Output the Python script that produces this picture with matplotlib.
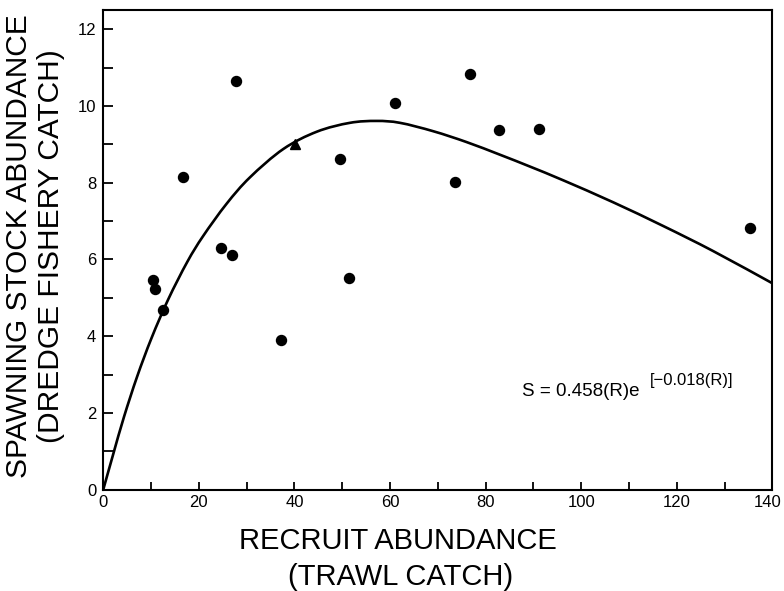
import matplotlib
matplotlib.use("Agg")
import matplotlib.pyplot as plt
import matplotlib.transforms as mtransforms
from matplotlib.path import Path
from matplotlib.patches import PathPatch
from matplotlib.ticker import MultipleLocator

plt.rcParams['font.family'] = ['Liberation Sans', 'DejaVu Sans']

# Observed data (recruit abundance R, spawning stock abundance S)
dot_r = [10.4, 10.8, 12.5, 16.6, 24.7, 26.9, 27.7, 37.1, 49.5, 51.4, 61.1, 73.5, 76.7, 82.7, 91.2, 135.3]
dot_s = [5.47, 5.22, 4.69, 8.14, 6.29, 6.13, 10.64, 3.91, 8.62, 5.53, 10.08, 8.03, 10.84, 9.37, 9.40, 6.81]
tri_r = [40.1]
tri_s = [9.01]

# Fitted curve
curve_r = [0, 2.1, 4.35, 7.1, 10.1, 13.6, 17.6, 20.9, 25.8, 30.7, 37.7, 44.7, 51.6, 57.2,
           62.1, 69.1, 76.0, 83.0, 89.3, 96.3, 106.7, 117.2, 127.6, 140]
curve_s = [0, 0.93, 1.90, 2.95, 3.95, 4.96, 5.94, 6.61, 7.45, 8.14, 8.88, 9.33, 9.56, 9.61,
           9.56, 9.34, 9.06, 8.73, 8.42, 8.06, 7.49, 6.87, 6.22, 5.38]

x_ticks = [0, 20, 40, 60, 80, 100, 120, 140]
y_ticks = [0, 2, 4, 6, 8, 10, 12]


def smooth_path(xs, ys):
    """Smooth drawing path (Catmull-Rom as cubic Bezier) through the given points."""
    pts = list(zip(xs, ys))
    n = len(pts)
    verts = [pts[0]]
    codes = [Path.MOVETO]
    for i in range(n - 1):
        p0 = pts[i - 1] if i > 0 else pts[i]
        p1 = pts[i]
        p2 = pts[i + 1]
        p3 = pts[i + 2] if i + 2 < n else pts[i + 1]
        c1 = (p1[0] + (p2[0] - p0[0]) / 6.0, p1[1] + (p2[1] - p0[1]) / 6.0)
        c2 = (p2[0] - (p3[0] - p1[0]) / 6.0, p2[1] - (p3[1] - p1[1]) / 6.0)
        verts += [c1, c2, p2]
        codes += [Path.CURVE4] * 3
    return Path(verts, codes)


fig = plt.figure(figsize=(7.84, 5.91), dpi=100)
ax = fig.add_axes([103.2 / 784, 1 - 489.8 / 591, (772.4 - 103.2) / 784, (489.8 - 10) / 591])

ax.add_patch(PathPatch(smooth_path(curve_r, curve_s), facecolor='none', edgecolor='black',
                       lw=1.9, zorder=2, clip_on=False))
ax.plot(dot_r, dot_s, 'o', color='black', ms=7.2, zorder=3)
ax.plot(tri_r, tri_s, '^', color='black', ms=7.5, zorder=3)

ax.set_xlim(0, 140)
ax.set_ylim(0, 12.5)
ax.set_xticks(x_ticks)
ax.set_yticks(y_ticks)
ax.xaxis.set_minor_locator(MultipleLocator(10))
ax.yaxis.set_minor_locator(MultipleLocator(1))
ax.tick_params(axis='both', which='both', direction='in', top=False, right=False,
               width=1.3, labelsize=12)
ax.tick_params(axis='x', which='both', length=6, pad=4)
ax.tick_params(axis='y', which='both', length=7, pad=5)
for sp in ax.spines.values():
    sp.set_linewidth(1.5)

# nudge the last x tick label so it stays inside the figure
fig.canvas.draw()
last = ax.get_xticklabels()[-1]
last.set_transform(last.get_transform() + mtransforms.ScaledTranslation(-5 / 100, 0, fig.dpi_scale_trans))

ax.text(87.6, 2.55, 'S = 0.458(R)e', fontsize=13.5, ha='left', va='center')
ax.text(114.4, 2.86, '[\u22120.018(R)]', fontsize=12, ha='left', va='center')

fig.text(398 / 784, 1 - 541 / 591, 'RECRUIT ABUNDANCE', fontsize=21, ha='center', va='center')
fig.text(401 / 784, 1 - 577 / 591, '(TRAWL CATCH)', fontsize=21, ha='center', va='center')
fig.text(19 / 784, 1 - 246 / 591, 'SPAWNING STOCK ABUNDANCE', fontsize=21.5, rotation=90,
         ha='center', va='center')
fig.text(51 / 784, 1 - 246 / 591, '(DREDGE FISHERY CATCH)', fontsize=21.5, rotation=90,
         ha='center', va='center')

fig.savefig('out.png', dpi=100)
